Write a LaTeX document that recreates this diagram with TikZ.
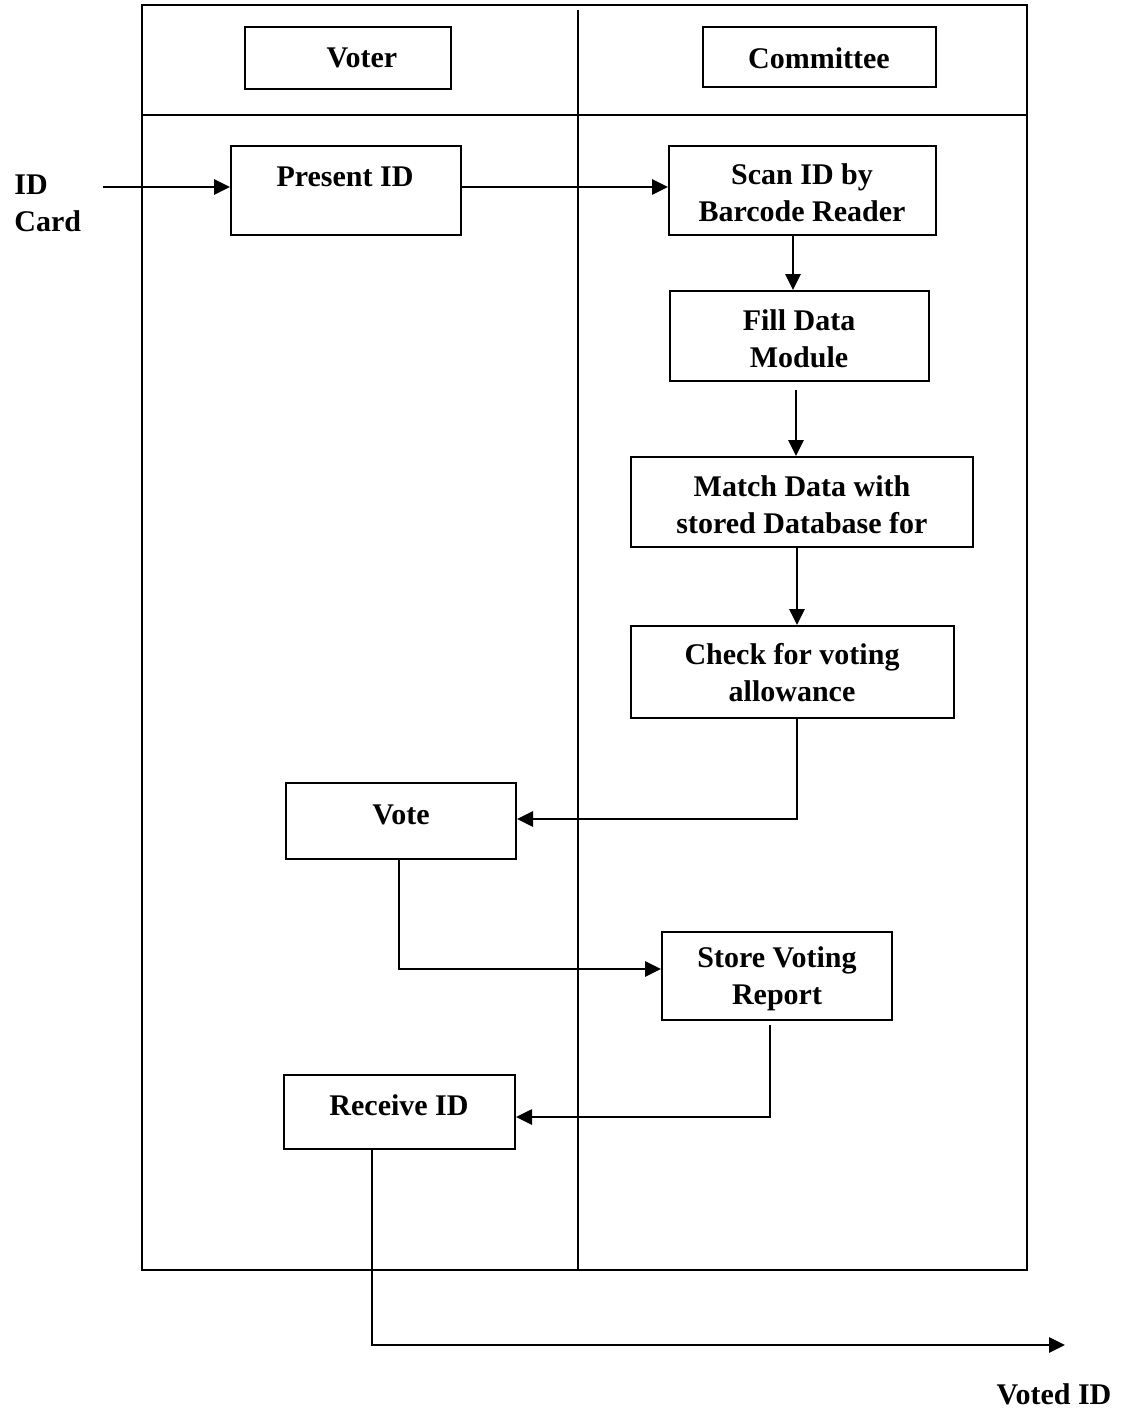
\documentclass[tikz,border=0pt]{standalone}
\usepackage{fontspec}
\setmainfont{Liberation Serif}
\usetikzlibrary{arrows.meta}
\begin{document}
\begin{tikzpicture}[x=0.5pt,y=-0.5pt]
\tikzset{
  box/.style={draw, line width=1pt, rectangle, inner sep=0pt},
  txt/.style={font=\bfseries\fontsize{15}{18.5}\selectfont, align=center, inner sep=0pt},
  flow/.style={line width=1.35pt, -{Triangle[length=8pt,width=7.5pt]}},
  lane/.style={line width=1pt}
}
\useasboundingbox (0,0) rectangle (1122,1413);

% swimlane frame
\draw[lane] (142,5) rectangle (1027,1270);
\draw[lane] (142,115) -- (1027,115);
\draw[lane] (578,10) -- (578,1270);

% lane headers
\node[box, minimum width=103pt, minimum height=31pt] (voterhead) at (348,58) {};
\node[txt] (votertxt) at (362,58) {Voter};
\node[box, minimum width=116.5pt, minimum height=30pt] (commhead) at (819.5,57) {};
\node[txt] (commtxt) at (819,58) {Committee};

% process boxes
\node[box, minimum width=115pt, minimum height=44.5pt] (present) at (346,190.5) {};
\node[txt] (presenttxt) at (345,177) {Present ID};

\node[box, minimum width=133.5pt, minimum height=44.5pt] (scan) at (802.5,190.5) {};
\node[txt] (scantxt) at (802,193) {Scan ID by\\Barcode Reader};

\node[box, minimum width=129.5pt, minimum height=45pt] (fill) at (799.5,336) {};
\node[txt] (filltxt) at (799,339) {Fill Data\\Module};

\node[box, minimum width=171pt, minimum height=45pt] (match) at (802,502) {};
\node[txt] (matchtxt) at (802,505) {Match Data with\\stored Database for};

\node[box, minimum width=161.5pt, minimum height=46pt] (check) at (792.5,672) {};
\node[txt] (checktxt) at (792,673) {Check for voting\\allowance};

\node[box, minimum width=115pt, minimum height=38pt] (vote) at (401,821) {};
\node[txt] (votetxt) at (401,815) {Vote};

\node[box, minimum width=115pt, minimum height=44pt] (store) at (777,976) {};
\node[txt] (storetxt) at (777,979) {Store Voting\\Report};

\node[box, minimum width=115.5pt, minimum height=37pt] (receive) at (399.5,1112) {};
\node[txt] (receivetxt) at (399,1105) {Receive ID};

% external labels
\node[txt, align=left, anchor=west] (idcard) at (14,203) {ID\\Card};
\node[txt] (votedid) at (1054,1394) {Voted ID};

% free ends of the outer connectors
\coordinate (idin) at (103,187);
\coordinate (fillout) at (796,390);
\coordinate (storeout) at (770,1025);
\coordinate (idout) at (1065,1345);

% connectors
\draw[flow] (idin) -- (idin -| present.west);
\draw[flow] ([yshift=1.75pt]present.east) -- ([yshift=1.75pt]scan.west);
\draw[flow] ([xshift=-4.75pt]scan.south) -- ([xshift=-4.75pt]scan.south |- fill.north);
\draw[flow] (fillout) -- (fillout |- match.north);
\draw[flow] ([xshift=-2.5pt]match.south) -- ([xshift=-2.5pt]match.south |- check.north);
\draw[flow] ([xshift=2.25pt]check.south) |- ([yshift=1pt]vote.east);
\draw[flow] ([xshift=-1pt]vote.south) |- ([yshift=3.5pt]store.west);
\draw[flow] (storeout) |- ([yshift=-2.5pt]receive.east);
\draw[flow] ([xshift=-13.75pt]receive.south) |- (idout);
\end{tikzpicture}
\end{document}
